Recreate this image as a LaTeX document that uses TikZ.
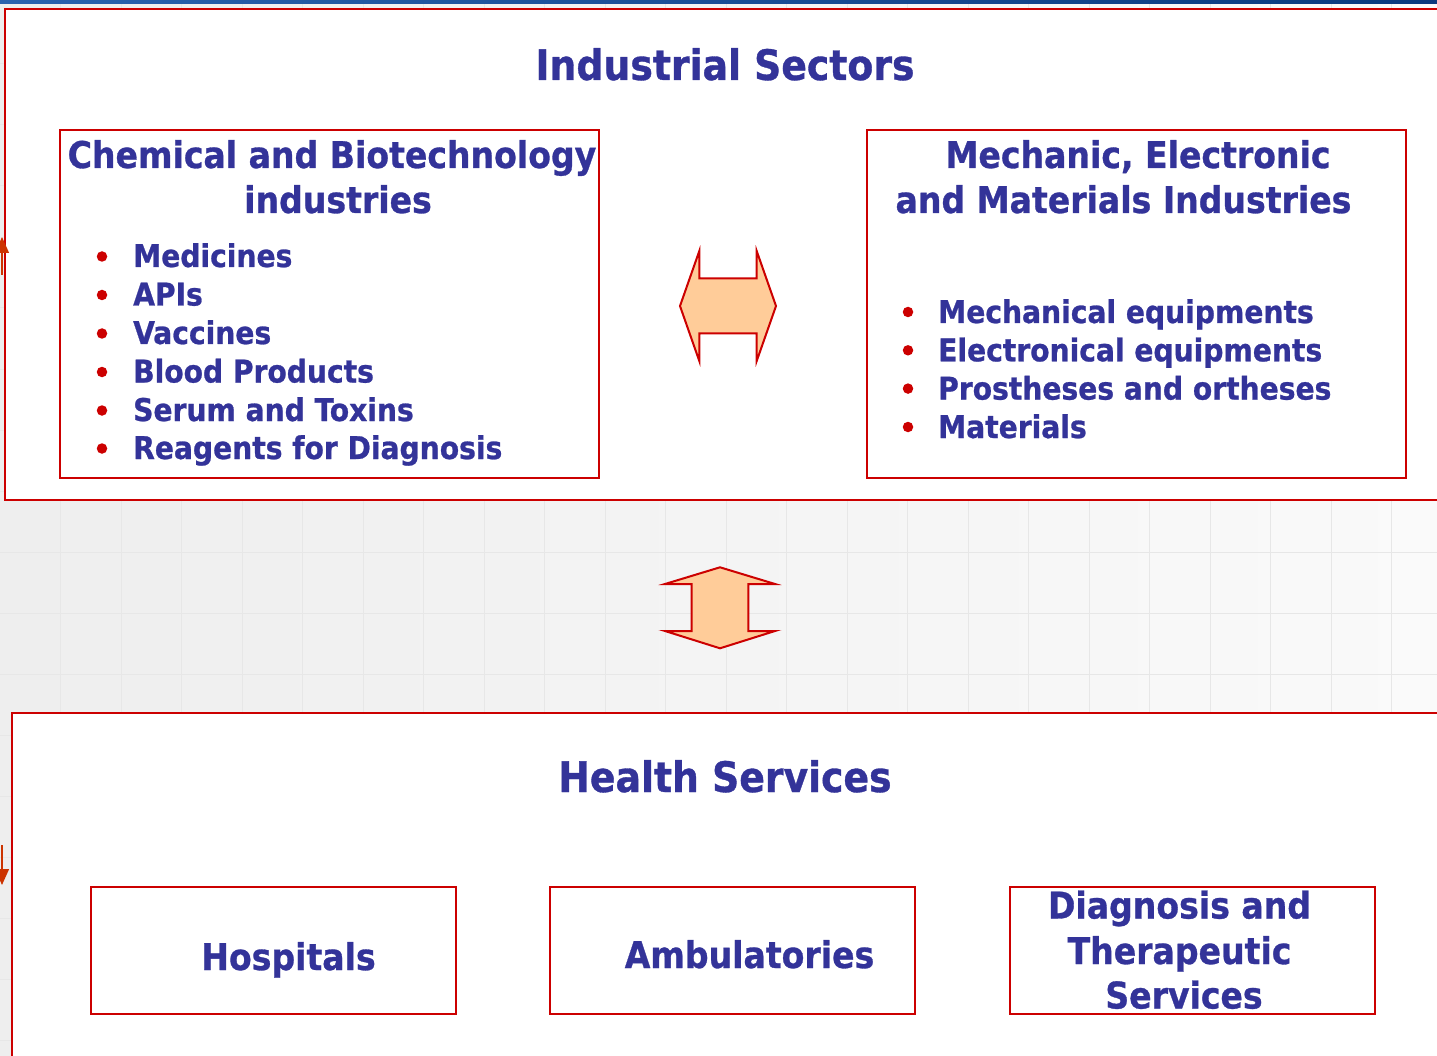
\documentclass[tikz,border=0pt]{standalone}
\usepackage{fontspec}
\setmainfont{DejaVu Sans Condensed}[BoldFeatures={FakeBold=0.8}]
\usetikzlibrary{arrows.meta,calc}
\definecolor{txtblue}{HTML}{333399}
\definecolor{boxred}{HTML}{CC0000}
\definecolor{peach}{HTML}{FFCC99}
\definecolor{bgleft}{HTML}{EEEEEE}
\definecolor{bgright}{HTML}{FAFAFA}
\definecolor{gridc}{HTML}{E7E7E7}
\definecolor{barleft}{HTML}{2A62AE}
\definecolor{barright}{HTML}{0B3A7E}
\definecolor{sidered}{HTML}{CC3300}
\begin{document}
\begin{tikzpicture}[x=1pt,y=-1pt,
  panel/.style={draw=boxred,line width=2.2pt,fill=white,rectangle,inner sep=0pt,anchor=north west},
  heading/.style={font=\bfseries\fontsize{42}{46}\selectfont,text=txtblue,inner sep=0pt,anchor=base},
  subhead/.style={font=\bfseries\fontsize{36.8}{44}\selectfont,text=txtblue,inner sep=0pt,anchor=base},
  item/.style={font=\bfseries\fontsize{31.3}{38}\selectfont,text=txtblue,inner sep=0pt,anchor=base west},
  dot/.style={circle,fill=boxred,inner sep=0pt,minimum size=10.5pt},
  blockarrow/.style={draw=boxred,fill=peach,line width=2pt,line join=miter},
  gridline/.style={draw=gridc,line width=1pt},
  sidearrow/.style={draw=sidered,line width=1.3pt,-{Triangle[width=14pt,length=16pt]}}
]
\useasboundingbox (0,0) rectangle (1437,1056);
\clip (0,0) rectangle (1437,1056);
% slide background
\fill[left color=bgleft,right color=bgright] (0,0) rectangle (1437,1056);
\foreach \i in {1,...,23} \draw[gridline] ({60.5*\i},0) -- ({60.5*\i},1056);
\foreach \i in {0,...,17} \draw[gridline] (0,{3+61*\i}) -- (1437,{3+61*\i});
\fill[left color=barleft,right color=barright] (0,0) rectangle (1437,3.5);

% big panels
\node[panel,minimum width=1446pt,minimum height=491pt] (top) at (4,8) {};
\node[panel,minimum width=1446pt,minimum height=360pt] (bottom) at (11,712) {};

% ends of a side connector whose line lies outside the slide
\coordinate (sa1) at (2,275);
\coordinate (sb1) at (2,237);
\coordinate (sa2) at (2,845);
\coordinate (sb2) at (2,885);
\draw[sidearrow] (sa1) -- (sb1);
\draw[sidearrow] (sa2) -- (sb2);

% top panel
\node[heading] (indsec) at (725,80) {Industrial Sectors};

\node[panel,minimum width=539pt,minimum height=348pt] (chem) at (59,129) {};
\node[subhead] (chemt1) at (332,168) {Chemical and Biotechnology};
\node[subhead] (chemt2) at (338,213) {industries};
\foreach \t/\yy [count=\k] in {Medicines/267,APIs/305.5,Vaccines/344,Blood Products/382.5,Serum and Toxins/421,Reagents for Diagnosis/459}{
  \node[item] (ci\k) at (133,\yy) {\t};
  \node[dot] (cd\k) at (102,\yy-10.5) {};
}

\node[panel,minimum width=539pt,minimum height=348pt] (mech) at (866,129) {};
\node[subhead] (mecht1) at (1138,168) {Mechanic, Electronic};
\node[subhead] (mecht2) at (1123.5,213) {and Materials Industries};
\foreach \t/\yy [count=\k] in {Mechanical equipments/323,Electronical equipments/361.3,Prostheses and ortheses/399.6,Materials/438}{
  \node[item] (mi\k) at (938,\yy) {\t};
  \node[dot] (md\k) at (908,\yy-11) {};
}

% horizontal double block arrow between the two sector boxes
\coordinate (ha) at (727.5,306);
\draw[blockarrow] ($(ha)+(-47.5,0)$) -- ++(19.3,-55) -- ++(0,27.5) -- ++(57.4,0) -- ++(0,-27.5)
  -- ++(19.3,55) -- ++(-19.3,55) -- ++(0,-27.5) -- ++(-57.4,0) -- ++(0,27.5) -- cycle;

% vertical double block arrow between the two panels
\coordinate (va) at (720,608);
\draw[blockarrow] ($(va)+(0,-40.7)$) -- ++(55,16.7) -- ++(-26.7,0) -- ++(0,47) -- ++(26.7,0)
  -- ++(-55,17.3) -- ++(-55,-17.3) -- ++(26.7,0) -- ++(0,-47) -- ++(-26.7,0) -- cycle;

% bottom panel
\node[heading] (health) at (725,792) {Health Services};

\node[panel,minimum width=365pt,minimum height=127pt] (hosp) at (90,886) {};
\node[subhead] (hospt) at (288.5,970) {Hospitals};

\node[panel,minimum width=365pt,minimum height=127pt] (amb) at (549,886) {};
\node[subhead] (ambt) at (749.5,968) {Ambulatories};

\node[panel,minimum width=365pt,minimum height=127pt] (diag) at (1009,886) {};
\node[subhead] (diagt1) at (1179.5,918.5) {Diagnosis and};
\node[subhead] (diagt2) at (1179.5,964) {Therapeutic};
\node[subhead] (diagt3) at (1184,1008.5) {Services};
\end{tikzpicture}
\end{document}
